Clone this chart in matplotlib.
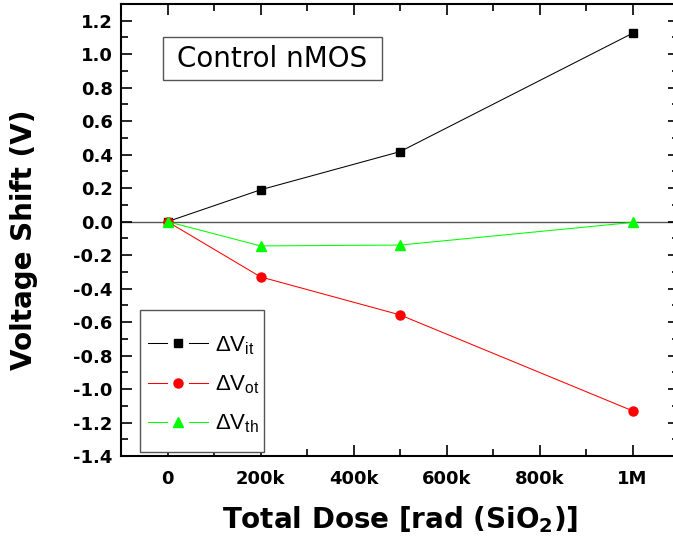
import matplotlib
matplotlib.use('Agg')
import matplotlib.pyplot as plt
from matplotlib.ticker import MultipleLocator, FuncFormatter
from matplotlib.lines import Line2D
from matplotlib.patches import Rectangle
from matplotlib.legend_handler import HandlerBase

plt.rcParams['font.family'] = ['DejaVu Sans']
plt.rcParams['mathtext.fontset'] = 'custom'
plt.rcParams['mathtext.rm'] = 'Liberation Sans'
plt.rcParams['mathtext.it'] = 'Liberation Sans'
plt.rcParams['mathtext.bf'] = 'DejaVu Sans:bold'

# data
dose = [0, 200e3, 500e3, 1e6]
dv_it = [0.0, 0.19, 0.418, 1.125]
dv_ot = [0.0, -0.33, -0.557, -1.13]
dv_th = [0.0, -0.145, -0.14, -0.005]
x_ticks = [0, 200e3, 400e3, 600e3, 800e3, 1e6]
x_labels = ['0', '200k', '400k', '600k', '800k', '1M']


class GapHandler(HandlerBase):
    # line - marker - line, with a gap round the marker (Origin style)
    def create_artists(self, legend, orig, xdescent, ydescent, width, height, fontsize, trans):
        y = height / 2 - ydescent
        x0 = -xdescent
        gap = 0.36 * width
        seg = (width - gap) / 2
        kw = dict(color=orig.get_color(), lw=orig.get_linewidth())
        l1 = Line2D([x0, x0 + seg], [y, y], **kw)
        l2 = Line2D([x0 + width - seg, x0 + width], [y, y], **kw)
        m = Line2D([x0 + width / 2], [y], ls='none', marker=orig.get_marker(),
                   ms=orig.get_markersize(), color=orig.get_color())
        for a in (l1, l2, m):
            a.set_transform(trans)
        return [l1, l2, m]


fig = plt.figure(figsize=(6.73, 5.5), dpi=100)
ax = fig.add_axes([121/673, 94/550, 558/673, 452/550])

ax.axhline(0, color='#555555', lw=1.0, zorder=1)
l_it, = ax.plot(dose, dv_it, color='black', lw=0.75, marker='s', ms=5.5, label=r'$\Delta$V$_{\mathrm{it}}$')
l_ot, = ax.plot(dose, dv_ot, color='red', lw=0.75, marker='o', ms=6.5, label=r'$\Delta$V$_{\mathrm{ot}}$')
l_th, = ax.plot(dose, dv_th, color='#00ff00', lw=0.75, marker='^', ms=7.5, label=r'$\Delta$V$_{\mathrm{th}}$')

ax.set_xlim(-100e3, 1.1e6)
ax.set_ylim(-1.4, 1.3)
ax.set_xticks(x_ticks)
ax.set_xticklabels(x_labels)
ax.xaxis.set_minor_locator(MultipleLocator(100e3))
ax.yaxis.set_major_locator(MultipleLocator(0.2))
ax.yaxis.set_minor_locator(MultipleLocator(0.1))
ax.yaxis.set_major_formatter(FuncFormatter(lambda v, p: '%.1f' % v))
ax.tick_params(which='both', direction='in', top=True, right=True, width=1.2)
ax.tick_params(which='major', length=8, labelsize=13)
ax.tick_params(axis='x', which='major', pad=10)
ax.tick_params(axis='y', which='major', pad=6)
ax.tick_params(which='minor', length=5)
for lab in ax.get_xticklabels() + ax.get_yticklabels():
    lab.set_fontweight('bold')
for s in ax.spines.values():
    s.set_linewidth(1.5)

ax.set_xlabel(r'Total Dose [rad (SiO$_\mathbf{2}$)]', fontsize=20, fontweight='bold', labelpad=12)
ax.set_ylabel('Voltage Shift (V)', fontsize=20, fontweight='bold')
ax.yaxis.set_label_coords(-0.149, 0.478)

# "Control nMOS" box
ax.add_patch(Rectangle(((163 - 121) / 558, (456 - 80) / 452), 219 / 558, 43 / 452,
                       transform=ax.transAxes, fc='white', ec='#555555', lw=1, zorder=3))
ax.text(0.2706, 0.879, 'Control nMOS', transform=ax.transAxes, fontsize=20,
        ha='center', va='center', zorder=4)

# legend frame drawn by hand, legend itself without frame
ax.add_patch(Rectangle(((140 - 121) / 558, (456 - 452) / 452), 124 / 558, 142 / 452,
                       transform=ax.transAxes, fc='white', ec='#555555', lw=1, zorder=3))
leg = ax.legend(handles=[l_it, l_ot, l_th], handler_map={Line2D: GapHandler()},
                loc='lower left', bbox_to_anchor=(0.018, 0.009), borderaxespad=0,
                prop={'family': 'Liberation Sans', 'size': 16}, frameon=False,
                handlelength=2.7, handletextpad=0.35, labelspacing=0.75, borderpad=0.75)
leg.set_zorder(5)

fig.savefig('out.png', dpi=100)
